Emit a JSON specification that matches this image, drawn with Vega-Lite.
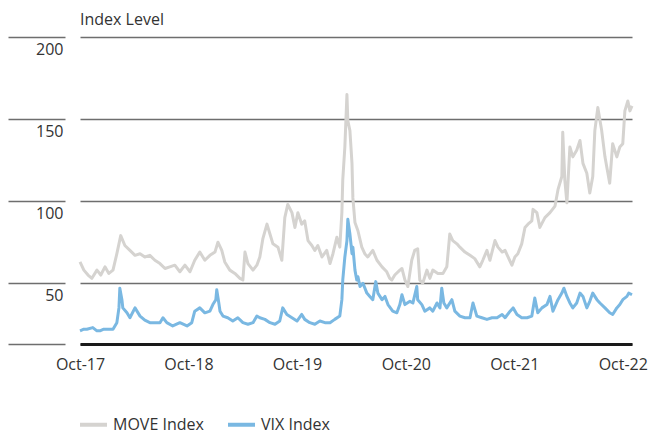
{
  "$schema": "https://vega.github.io/schema/vega-lite/v6.json",
  "width": 552,
  "height": 307,
  "autosize": {"type": "none"},
  "padding": {"left": 80, "top": 37, "right": 28, "bottom": 94},
  "background": "white",
  "config": {
    "view": {"stroke": null},
    "font": "Open Sans",
    "title": {"font": "Open Sans"},
    "axis": {"labelFont": "Open Sans"},
    "legend": {"labelFont": "Open Sans"}
  },
  "title": {
    "text": "Index Level",
    "anchor": "start",
    "frame": "group",
    "fontSize": 16,
    "fontWeight": "normal",
    "color": "#333333",
    "baseline": "alphabetic",
    "offset": -5
  },
  "datasets": {
    "move": [
      {"d":"2017-10-01","v":63},{"d":"2017-10-14","v":58},{"d":"2017-10-28","v":55},{"d":"2017-11-10","v":53},{"d":"2017-11-27","v":58},{"d":"2017-12-10","v":55},{"d":"2017-12-24","v":60},{"d":"2018-01-06","v":56},{"d":"2018-01-20","v":58},{"d":"2018-02-02","v":68},{"d":"2018-02-15","v":79},{"d":"2018-03-01","v":73},{"d":"2018-03-18","v":70},{"d":"2018-04-04","v":67},{"d":"2018-04-21","v":68},{"d":"2018-05-07","v":66},{"d":"2018-05-24","v":67},{"d":"2018-06-10","v":64},{"d":"2018-06-27","v":62},{"d":"2018-07-14","v":59},{"d":"2018-07-30","v":60},{"d":"2018-08-16","v":61},{"d":"2018-09-02","v":57},{"d":"2018-09-19","v":61},{"d":"2018-10-06","v":57},{"d":"2018-10-22","v":64},{"d":"2018-11-08","v":69},{"d":"2018-11-25","v":64},{"d":"2018-12-12","v":67},{"d":"2018-12-29","v":69},{"d":"2019-01-08","v":75},{"d":"2019-01-21","v":70},{"d":"2019-01-31","v":63},{"d":"2019-02-17","v":58},{"d":"2019-03-06","v":56},{"d":"2019-03-23","v":53},{"d":"2019-04-02","v":52},{"d":"2019-04-09","v":69},{"d":"2019-04-19","v":62},{"d":"2019-05-06","v":58},{"d":"2019-05-19","v":61},{"d":"2019-05-29","v":66},{"d":"2019-06-08","v":77},{"d":"2019-06-22","v":86},{"d":"2019-07-02","v":80},{"d":"2019-07-12","v":74},{"d":"2019-07-29","v":72},{"d":"2019-08-11","v":64},{"d":"2019-08-21","v":90},{"d":"2019-08-31","v":98},{"d":"2019-09-14","v":93},{"d":"2019-09-24","v":84},{"d":"2019-10-04","v":93},{"d":"2019-10-17","v":86},{"d":"2019-10-27","v":88},{"d":"2019-11-07","v":76},{"d":"2019-11-20","v":73},{"d":"2019-11-30","v":70},{"d":"2019-12-10","v":73},{"d":"2019-12-24","v":66},{"d":"2020-01-09","v":70},{"d":"2020-01-20","v":62},{"d":"2020-01-30","v":68},{"d":"2020-02-12","v":78},{"d":"2020-02-22","v":72},{"d":"2020-02-29","v":93},{"d":"2020-03-03","v":113},{"d":"2020-03-10","v":133},{"d":"2020-03-17","v":165},{"d":"2020-03-20","v":149},{"d":"2020-03-27","v":143},{"d":"2020-04-03","v":123},{"d":"2020-04-06","v":102},{"d":"2020-04-13","v":87},{"d":"2020-04-23","v":82},{"d":"2020-05-06","v":72},{"d":"2020-05-16","v":68},{"d":"2020-05-26","v":66},{"d":"2020-06-12","v":70},{"d":"2020-06-26","v":64},{"d":"2020-07-13","v":60},{"d":"2020-07-29","v":57},{"d":"2020-08-08","v":53},{"d":"2020-08-15","v":52},{"d":"2020-08-25","v":55},{"d":"2020-09-11","v":58},{"d":"2020-09-18","v":59},{"d":"2020-09-28","v":52},{"d":"2020-10-08","v":48},{"d":"2020-10-21","v":64},{"d":"2020-10-31","v":70},{"d":"2020-11-10","v":71},{"d":"2020-11-17","v":52},{"d":"2020-11-27","v":50},{"d":"2020-12-11","v":58},{"d":"2020-12-21","v":53},{"d":"2020-12-31","v":58},{"d":"2021-01-17","v":56},{"d":"2021-02-03","v":56},{"d":"2021-02-16","v":60},{"d":"2021-02-26","v":80},{"d":"2021-03-08","v":76},{"d":"2021-03-22","v":74},{"d":"2021-04-01","v":72},{"d":"2021-04-18","v":69},{"d":"2021-05-05","v":67},{"d":"2021-05-21","v":65},{"d":"2021-06-07","v":60},{"d":"2021-06-17","v":64},{"d":"2021-07-01","v":70},{"d":"2021-07-11","v":64},{"d":"2021-07-28","v":76},{"d":"2021-08-07","v":72},{"d":"2021-08-21","v":69},{"d":"2021-08-31","v":70},{"d":"2021-09-10","v":66},{"d":"2021-09-23","v":61},{"d":"2021-10-03","v":66},{"d":"2021-10-13","v":68},{"d":"2021-10-26","v":74},{"d":"2021-11-06","v":84},{"d":"2021-11-16","v":86},{"d":"2021-11-29","v":88},{"d":"2021-12-03","v":95},{"d":"2021-12-16","v":93},{"d":"2021-12-26","v":84},{"d":"2022-01-12","v":90},{"d":"2022-01-29","v":93},{"d":"2022-02-15","v":97},{"d":"2022-02-25","v":107},{"d":"2022-03-10","v":115},{"d":"2022-03-13","v":142},{"d":"2022-03-20","v":113},{"d":"2022-03-27","v":99},{"d":"2022-04-06","v":133},{"d":"2022-04-16","v":127},{"d":"2022-04-29","v":131},{"d":"2022-05-10","v":137},{"d":"2022-05-20","v":123},{"d":"2022-06-02","v":117},{"d":"2022-06-12","v":105},{"d":"2022-06-22","v":115},{"d":"2022-06-29","v":143},{"d":"2022-07-09","v":157},{"d":"2022-07-22","v":143},{"d":"2022-08-02","v":127},{"d":"2022-08-08","v":121},{"d":"2022-08-18","v":111},{"d":"2022-08-28","v":135},{"d":"2022-09-11","v":127},{"d":"2022-09-21","v":133},{"d":"2022-10-01","v":135},{"d":"2022-10-08","v":155},{"d":"2022-10-18","v":161},{"d":"2022-10-25","v":155},{"d":"2022-11-01","v":158}
    ],
    "vix": [
      {"d":"2017-10-01","v":21},{"d":"2017-10-14","v":22},{"d":"2017-10-24","v":22},{"d":"2017-11-13","v":23},{"d":"2017-11-27","v":21},{"d":"2017-12-07","v":21},{"d":"2017-12-20","v":22},{"d":"2017-12-31","v":22},{"d":"2018-01-20","v":22},{"d":"2018-02-02","v":26},{"d":"2018-02-09","v":35},{"d":"2018-02-12","v":47},{"d":"2018-02-19","v":40},{"d":"2018-02-22","v":35},{"d":"2018-03-08","v":32},{"d":"2018-03-18","v":29},{"d":"2018-04-04","v":35},{"d":"2018-04-21","v":30},{"d":"2018-05-07","v":27.5},{"d":"2018-05-24","v":26},{"d":"2018-06-10","v":26},{"d":"2018-06-27","v":26},{"d":"2018-07-07","v":29},{"d":"2018-07-20","v":26},{"d":"2018-08-09","v":24},{"d":"2018-09-02","v":26},{"d":"2018-09-26","v":24},{"d":"2018-10-12","v":26},{"d":"2018-10-22","v":33},{"d":"2018-11-08","v":35},{"d":"2018-11-25","v":32},{"d":"2018-12-12","v":33},{"d":"2018-12-22","v":37},{"d":"2019-01-01","v":40},{"d":"2019-01-04","v":46},{"d":"2019-01-11","v":38},{"d":"2019-01-15","v":33},{"d":"2019-01-25","v":30},{"d":"2019-02-10","v":29},{"d":"2019-02-27","v":27},{"d":"2019-03-16","v":29},{"d":"2019-04-02","v":26},{"d":"2019-04-19","v":25},{"d":"2019-05-06","v":26},{"d":"2019-05-19","v":30},{"d":"2019-05-29","v":29},{"d":"2019-06-15","v":28},{"d":"2019-07-02","v":26},{"d":"2019-07-19","v":25},{"d":"2019-08-04","v":27},{"d":"2019-08-14","v":35},{"d":"2019-08-28","v":31},{"d":"2019-09-14","v":29},{"d":"2019-10-01","v":27},{"d":"2019-10-17","v":31},{"d":"2019-10-27","v":28},{"d":"2019-11-13","v":26},{"d":"2019-11-30","v":25},{"d":"2019-12-17","v":27},{"d":"2020-01-03","v":26},{"d":"2020-01-20","v":26},{"d":"2020-02-05","v":28},{"d":"2020-02-22","v":30},{"d":"2020-02-29","v":40},{"d":"2020-03-03","v":52},{"d":"2020-03-10","v":66},{"d":"2020-03-17","v":76},{"d":"2020-03-20","v":89},{"d":"2020-03-27","v":80},{"d":"2020-04-03","v":68},{"d":"2020-04-06","v":72},{"d":"2020-04-13","v":58},{"d":"2020-04-19","v":52},{"d":"2020-04-23","v":54},{"d":"2020-04-30","v":48},{"d":"2020-05-10","v":50},{"d":"2020-05-23","v":44},{"d":"2020-06-02","v":42},{"d":"2020-06-12","v":40},{"d":"2020-06-22","v":51},{"d":"2020-06-29","v":44},{"d":"2020-07-13","v":40},{"d":"2020-07-23","v":42},{"d":"2020-08-02","v":37},{"d":"2020-08-18","v":33},{"d":"2020-09-01","v":32},{"d":"2020-09-11","v":37},{"d":"2020-09-18","v":43},{"d":"2020-09-28","v":37},{"d":"2020-10-15","v":39},{"d":"2020-10-25","v":38},{"d":"2020-11-07","v":48},{"d":"2020-11-10","v":40},{"d":"2020-11-24","v":37},{"d":"2020-12-04","v":33},{"d":"2020-12-21","v":35},{"d":"2020-12-31","v":33},{"d":"2021-01-14","v":38},{"d":"2021-01-24","v":35},{"d":"2021-01-30","v":47},{"d":"2021-02-06","v":38},{"d":"2021-02-16","v":35},{"d":"2021-03-05","v":40},{"d":"2021-03-15","v":33},{"d":"2021-04-01","v":30},{"d":"2021-04-18","v":29},{"d":"2021-05-05","v":29},{"d":"2021-05-15","v":38},{"d":"2021-05-28","v":30},{"d":"2021-06-14","v":29},{"d":"2021-07-01","v":28},{"d":"2021-07-18","v":29},{"d":"2021-08-04","v":29},{"d":"2021-08-21","v":31},{"d":"2021-08-31","v":29},{"d":"2021-09-17","v":33},{"d":"2021-09-27","v":35},{"d":"2021-10-10","v":31},{"d":"2021-10-26","v":29},{"d":"2021-11-13","v":29},{"d":"2021-11-29","v":30},{"d":"2021-12-09","v":41},{"d":"2021-12-19","v":32},{"d":"2022-01-02","v":35},{"d":"2022-01-19","v":37},{"d":"2022-01-29","v":42},{"d":"2022-02-08","v":33},{"d":"2022-02-25","v":40},{"d":"2022-03-10","v":44},{"d":"2022-03-17","v":47},{"d":"2022-03-27","v":42},{"d":"2022-04-06","v":38},{"d":"2022-04-16","v":35},{"d":"2022-04-29","v":38},{"d":"2022-05-10","v":44},{"d":"2022-05-20","v":42},{"d":"2022-06-02","v":35},{"d":"2022-06-12","v":39},{"d":"2022-06-22","v":44},{"d":"2022-07-06","v":40},{"d":"2022-07-16","v":38},{"d":"2022-08-02","v":35},{"d":"2022-08-18","v":32},{"d":"2022-08-28","v":31},{"d":"2022-09-11","v":35},{"d":"2022-09-21","v":37},{"d":"2022-10-01","v":40},{"d":"2022-10-15","v":42},{"d":"2022-10-21","v":44},{"d":"2022-11-01","v":43}
    ]
  },
  "encoding": {
    "x": {
      "field": "d",
      "type": "temporal",
      "scale": {"domain": [{"year": 2017, "month": 10, "date": 1}, {"year": 2022, "month": 11, "date": 1}]},
      "axis": {
        "title": null,
        "values": [
          {"year": 2017, "month": 10, "date": 1},
          {"year": 2018, "month": 10, "date": 1},
          {"year": 2019, "month": 10, "date": 1},
          {"year": 2020, "month": 10, "date": 1},
          {"year": 2021, "month": 10, "date": 1},
          {"year": 2022, "month": 10, "date": 1}
        ],
        "format": "%b-%y",
        "ticks": false,
        "tickSize": 0,
        "grid": false,
        "domain": true,
        "domainColor": "#1a1a1a",
        "domainWidth": 3,
        "labelPadding": 12,
        "labelFontSize": 16,
        "labelColor": "#333333",
        "labelFlush": false,
        "labelOverlap": false,
        "labelBound": false
      }
    },
    "y": {
      "field": "v",
      "type": "quantitative",
      "scale": {"domain": [13, 200], "nice": false, "zero": false},
      "axis": {
        "title": null,
        "values": [13, 50, 100, 150, 200],
        "offset": 15,
        "domain": false,
        "ticks": true,
        "tickSize": 57,
        "tickColor": "#6e6e6e",
        "tickWidth": 1.5,
        "grid": true,
        "gridColor": "#6e6e6e",
        "gridWidth": 1.5,
        "labelExpr": "datum.value < 20 ? '' : datum.label",
        "labelAlign": "right",
        "labelBaseline": "top",
        "labelPadding": -55,
        "labelOffset": 4,
        "labelFontSize": 16,
        "labelColor": "#333333"
      }
    },
    "color": {
      "type": "nominal",
      "scale": {"domain": ["MOVE Index", "VIX Index"], "range": ["#d5d3d0", "#7ab8e2"]},
      "legend": {
        "title": null,
        "orient": "none",
        "direction": "horizontal",
        "legendX": -2,
        "legendY": 372,
        "padding": 0,
        "symbolType": "stroke",
        "symbolStrokeWidth": 4,
        "symbolSize": 729,
        "labelOffset": 4,
        "columnPadding": 16,
        "labelFontSize": 16,
        "labelColor": "#333333"
      }
    }
  },
  "layer": [
    {
      "data": {"name": "move", "format": {"parse": {"d": "date:'%Y-%m-%d'"}}},
      "mark": {"type": "line", "strokeWidth": 3, "strokeJoin": "round"},
      "encoding": {"color": {"datum": "MOVE Index"}}
    },
    {
      "data": {"name": "vix", "format": {"parse": {"d": "date:'%Y-%m-%d'"}}},
      "mark": {"type": "line", "strokeWidth": 3, "strokeJoin": "round"},
      "encoding": {"color": {"datum": "VIX Index"}}
    }
  ]
}
